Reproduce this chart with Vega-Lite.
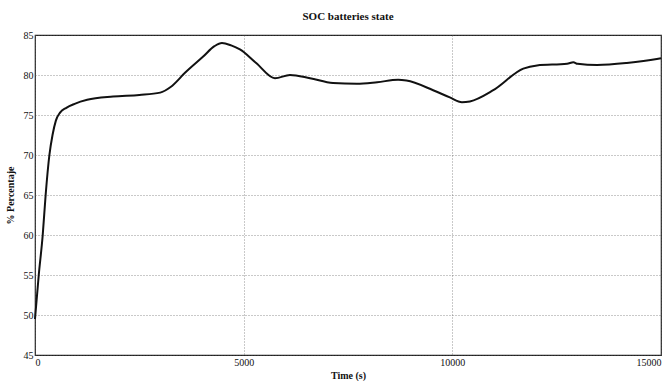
{
  "$schema": "https://vega.github.io/schema/vega-lite/v6.json",
  "width": 626,
  "height": 320,
  "autosize": {"type": "none"},
  "padding": {"left": 35, "top": 35, "right": 7, "bottom": 26},
  "background": "white",
  "title": {"text": "SOC batteries state", "font": "Liberation Serif", "fontSize": 11, "fontWeight": "bold", "color": "#111", "offset": 8},
  "config": {
    "view": {"stroke": "#222", "strokeWidth": 1.2},
    "axis": {
      "labelFont": "Liberation Serif", "labelFontSize": 10, "labelColor": "#111",
      "titleFont": "Liberation Serif", "titleFontSize": 10, "titleFontWeight": "bold", "titleColor": "#111",
      "gridColor": "#555", "gridDash": [1, 2], "gridOpacity": 0.8, "gridWidth": 0.8,
      "domain": false, "ticks": false
    }
  },
  "data": {"values": [
    {"t": 0, "soc": 49.5}, {"t": 90, "soc": 55}, {"t": 185, "soc": 60}, {"t": 255, "soc": 65},
    {"t": 345, "soc": 70}, {"t": 420, "soc": 72.5}, {"t": 500, "soc": 74.3}, {"t": 600, "soc": 75.3},
    {"t": 750, "soc": 75.9}, {"t": 950, "soc": 76.4}, {"t": 1250, "soc": 76.9}, {"t": 1870, "soc": 77.3},
    {"t": 2500, "soc": 77.5}, {"t": 3000, "soc": 77.8}, {"t": 3250, "soc": 78.5}, {"t": 3600, "soc": 80.3},
    {"t": 4030, "soc": 82.3}, {"t": 4300, "soc": 83.6}, {"t": 4480, "soc": 84.0}, {"t": 4700, "soc": 83.7},
    {"t": 4910, "soc": 83.2}, {"t": 5300, "soc": 81.5}, {"t": 5750, "soc": 79.6}, {"t": 6110, "soc": 80.0},
    {"t": 6590, "soc": 79.6}, {"t": 7140, "soc": 79.0}, {"t": 7710, "soc": 78.9}, {"t": 8200, "soc": 79.1},
    {"t": 8700, "soc": 79.4}, {"t": 8900, "soc": 79.3}, {"t": 9540, "soc": 78.1}, {"t": 9940, "soc": 77.2},
    {"t": 10230, "soc": 76.6}, {"t": 10420, "soc": 76.7}, {"t": 10980, "soc": 78.1}, {"t": 11700, "soc": 80.8},
    {"t": 12030, "soc": 81.2}, {"t": 12750, "soc": 81.4}, {"t": 12900, "soc": 81.6}, {"t": 13000, "soc": 81.4},
    {"t": 13470, "soc": 81.25}, {"t": 14180, "soc": 81.5}, {"t": 14900, "soc": 82.0}, {"t": 15000, "soc": 82.1}
  ]},
  "mark": {"type": "line", "color": "#111", "strokeWidth": 2, "interpolate": "monotone"},
  "encoding": {
    "x": {"field": "t", "type": "quantitative", "title": "Time (s)",
          "scale": {"domain": [0, 15000], "nice": false},
          "axis": {"values": [0, 5000, 10000, 15000], "format": "d", "labelPadding": 2, "titlePadding": 3, "labelFlush": true}},
    "y": {"field": "soc", "type": "quantitative", "title": "% Percentaje",
          "scale": {"domain": [45, 85], "nice": false, "zero": false},
          "axis": {"values": [45, 50, 55, 60, 65, 70, 75, 80, 85], "labelPadding": 2, "titlePadding": 8}}
  }
}
